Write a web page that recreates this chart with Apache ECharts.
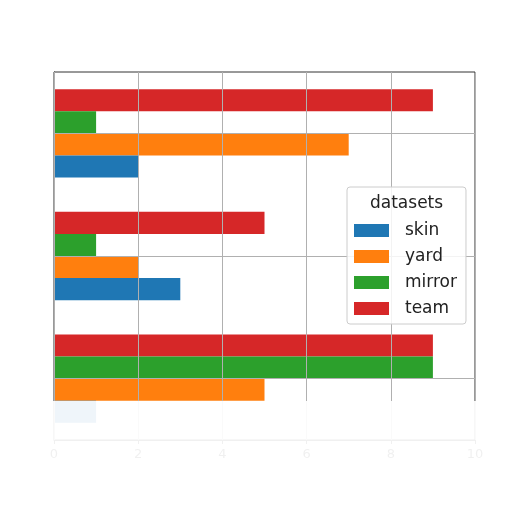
<!DOCTYPE html>
<html>
<head>
<meta charset="utf-8">
<script src="https://cdn.jsdelivr.net/npm/echarts@6/dist/echarts.min.js"></script>
<style>
  html, body { margin: 0; padding: 0; background: #fff; }
  #main { width: 512px; height: 512px; }
</style>
</head>
<body>
<div id="main"></div>
<script>
// categories from bottom to top (y tick labels are not readable in the picture)
const categories = ['A', 'B', 'C'];
const seriesNames = ['skin', 'yard', 'mirror', 'team'];
const colors = ['#1f77b4', '#ff7f0e', '#2ca02c', '#d62728'];

// bar lengths per category
const skin = [1, 3, 2];
const yard = [5, 2, 7];
const mirror = [9, 1, 1];
const team = [9, 5, 9];
const values = [skin, yard, mirror, team];

const xTicks = { min: 0, max: 10, interval: 2 };

const chart = echarts.init(document.getElementById('main'), null, { renderer: 'canvas' });

// echarts stacks horizontal bars top-down in series order, so add them reversed
const series = [];
for (let i = seriesNames.length - 1; i >= 0; i--) {
    series.push({
        name: seriesNames[i],
        type: 'bar',
        data: values[i],
        itemStyle: { color: colors[i] },
        barGap: '0%',
        barCategoryGap: '28%'
    });
}
// grid lines at the category centres, drawn over the bars like the original
series.push({
    type: 'line',
    data: [],
    markLine: {
        silent: true,
        symbol: 'none',
        label: { show: false },
        lineStyle: { color: '#b0b0b0', width: 1, type: 'solid' },
        data: categories.map(c => ({ yAxis: c }))
    }
});

chart.setOption({
    animation: false,
    textStyle: { fontFamily: 'DejaVu Sans' },
    grid: {
        left: 54, right: 37, top: 72, bottom: 72,
        show: true, borderColor: '#333', borderWidth: 1
    },
    title: {
        text: 'datasets',
        left: 370, top: 195, padding: 0, z: 12,
        textStyle: { fontSize: 17, fontWeight: 'normal', color: '#222', fontFamily: 'DejaVu Sans' }
    },
    legend: {
        data: seriesNames,
        orient: 'vertical',
        left: 347, top: 187,
        padding: [35, 9, 7, 7],
        itemWidth: 35, itemHeight: 13, itemGap: 9,
        icon: 'rect',
        backgroundColor: 'rgba(255,255,255,0.85)',
        borderColor: '#cccccc', borderWidth: 1, borderRadius: 3,
        z: 10,
        textStyle: { fontSize: 17, color: '#222', padding: [0, 0, 0, 11], fontFamily: 'DejaVu Sans' }
    },
    xAxis: {
        type: 'value',
        min: xTicks.min, max: xTicks.max, interval: xTicks.interval,
        z: 3,
        axisLine: { show: true, lineStyle: { color: '#333' } },
        axisTick: { show: true, length: 4, lineStyle: { color: '#333' } },
        axisLabel: { color: '#333', fontSize: 13 },
        splitLine: { show: true, lineStyle: { color: '#b0b0b0', width: 1 } }
    },
    yAxis: {
        type: 'category',
        data: categories,
        axisLine: { show: true, lineStyle: { color: '#333' } },
        axisTick: { show: false },
        axisLabel: { show: false },
        splitLine: { show: false }
    },
    series: series,
    // the lower part of the photo is washed out
    graphic: [{
        type: 'rect',
        z: 100,
        silent: true,
        shape: { x: 0, y: 401, width: 512, height: 111 },
        style: { fill: 'rgba(255,255,255,0.93)' }
    }]
});
</script>
</body>
</html>
